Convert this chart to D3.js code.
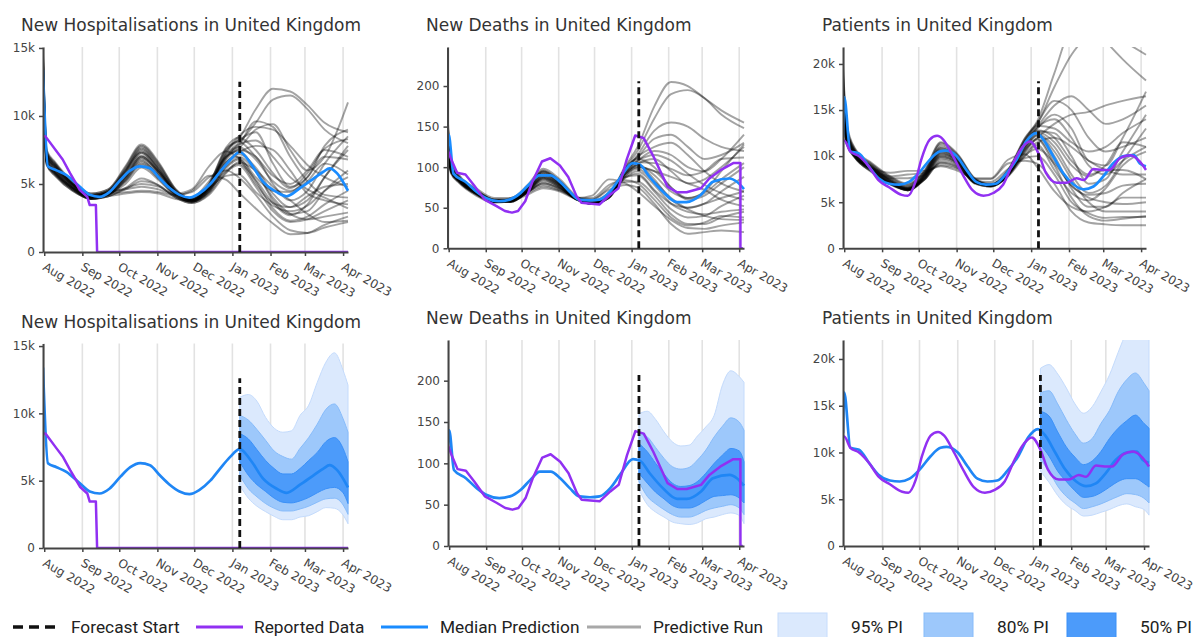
<!DOCTYPE html>
<html><head><meta charset="utf-8">
<script src="https://cdn.jsdelivr.net/npm/d3@7"></script>
<style>body{margin:0;background:#fff}svg{display:block}</style>
</head><body>
<svg id="chart" width="1199" height="637"></svg>
<script>
// ---------- DATA ----------
const monthTicks = ["2022-08-01","2022-09-01","2022-10-01","2022-11-01","2022-12-01","2023-01-01","2023-02-01","2023-03-01","2023-04-01"];
const monthLabels = ["Aug 2022","Sep 2022","Oct 2022","Nov 2022","Dec 2022","Jan 2023","Feb 2023","Mar 2023","Apr 2023"];
const forecastStart = "2023-01-07";

const hospTicks = [0, 5, 10, 15];
const hospTickLabels = ["0", "5k", "10k", "15k"];
const deathsTicks = [0, 50, 100, 150, 200];
const deathsTickLabels = ["0", "50", "100", "150", "200"];
const patTicks = [0, 5, 10, 15, 20];
const patTickLabels = ["0", "5k", "10k", "15k", "20k"];

// predictive runs knots (values in thousands for hosp/patients)
const runDates = ["2022-07-31","2022-08-03","2022-08-10","2022-08-24","2022-09-08","2022-09-22","2022-10-06","2022-10-19","2022-11-02","2022-11-16","2022-11-29","2022-12-13","2022-12-27","2023-01-06","2023-01-20","2023-02-03","2023-02-17","2023-03-03","2023-03-17","2023-04-05"];

const hospRuns = [
 [14.8,7.5,6.6,5.2,4.3,4.6,6.3,7.9,6.6,4.6,3.9,5.0,7.6,8.3,10.5,12.0,11.8,10.8,9.5,8.8],
 [14.5,7.2,6.4,5.0,4.2,4.5,6.0,7.6,6.3,4.5,3.8,4.8,7.2,8.0,9.5,11.2,11.5,10.5,9.0,8.0],
 [13.8,7.0,6.2,4.9,4.1,4.4,5.8,7.3,6.0,4.4,3.9,4.9,7.0,7.6,9.0,9.4,7.5,6.0,7.0,11.0],
 [14.2,7.3,6.5,5.1,4.2,4.5,6.1,7.7,6.4,4.5,3.8,4.7,7.4,8.2,8.8,6.5,4.8,5.5,7.8,9.0],
 [13.5,6.8,6.0,4.8,4.0,4.3,5.6,7.0,5.8,4.3,3.7,4.6,6.8,7.5,7.0,5.0,3.8,4.5,6.5,8.5],
 [13.0,6.6,5.8,4.7,4.0,4.2,5.3,6.6,5.6,4.2,3.7,4.5,6.5,7.2,6.2,4.3,3.3,3.8,5.5,7.8],
 [14.0,7.1,6.3,5.0,4.1,4.3,5.5,6.8,5.7,4.3,4.0,5.2,7.0,7.4,6.0,3.8,2.8,3.0,4.5,6.0],
 [13.3,6.7,5.9,4.7,3.9,4.2,5.2,6.4,5.4,4.1,3.7,4.4,6.2,6.8,5.2,3.2,2.3,2.6,3.5,4.5],
 [12.8,6.5,5.7,4.6,4.0,4.3,4.7,5.0,4.8,4.2,4.4,5.5,6.0,5.5,4.2,2.6,1.6,1.4,1.8,2.2],
 [13.6,6.9,6.1,4.8,4.0,4.2,5.4,6.9,5.9,4.4,3.8,4.5,6.6,7.3,7.8,7.5,6.0,4.3,3.8,3.5],
 [12.5,6.4,5.6,4.5,3.9,4.1,4.6,5.2,4.9,4.0,3.6,4.2,5.8,6.6,6.0,4.8,3.8,2.8,2.2,2.3],
 [13.2,6.7,5.9,4.7,4.0,4.4,4.6,4.8,4.6,4.2,4.5,5.6,5.3,4.4,3.2,2.1,1.3,1.4,2.0,2.6],
 [14.3,7.2,6.3,5.0,4.2,4.4,5.9,7.5,6.2,4.4,3.8,4.8,7.3,8.5,9.2,9.0,7.8,6.4,5.5,4.8],
 [12.9,6.6,5.8,4.7,4.1,4.3,4.4,4.5,4.4,4.1,3.9,4.6,6.0,6.5,5.3,3.6,2.7,3.5,5.5,7.5],
 [13.7,7.0,6.1,4.9,4.0,4.3,5.5,7.0,5.9,4.3,3.7,4.7,6.9,7.9,8.2,7.0,5.5,4.6,4.0,3.2],
 [13.1,6.6,5.8,4.7,4.0,4.2,5.2,6.5,5.5,4.2,3.7,4.6,6.6,7.0,5.9,4.0,2.8,2.4,2.6,2.9],
 [14.1,7.1,6.3,5.0,4.1,4.4,5.9,7.3,6.1,4.4,3.8,4.9,7.1,7.7,6.8,5.2,4.5,5.2,6.5,5.7],
 [13.4,6.8,6.0,4.8,4.0,4.3,5.4,6.7,5.6,4.3,4.6,6.3,7.4,6.9,5.0,3.6,3.3,4.1,4.8,5.0],
 [12.7,6.5,5.7,4.6,3.9,4.1,4.7,5.4,4.9,4.0,3.6,4.3,5.9,6.4,4.8,3.0,2.2,2.4,3.0,3.8],
 [14.6,7.4,6.5,5.1,4.3,4.6,6.2,7.8,6.5,4.6,3.9,5.0,7.7,8.4,7.5,5.8,4.7,5.8,7.6,8.3],
 [13.9,7.0,6.2,4.9,4.1,4.4,5.7,7.1,5.9,4.4,3.8,4.8,7.0,7.8,9.6,9.2,7.0,5.2,4.2,4.0],
 [13.0,6.6,5.8,4.6,3.9,4.2,5.0,6.2,5.3,4.1,3.7,4.4,6.3,6.9,5.5,4.5,4.4,5.5,7.0,6.8],
 [14.4,7.3,6.4,5.0,4.2,4.5,6.0,7.4,6.1,4.4,3.8,4.9,7.5,8.1,7.0,5.6,5.0,6.0,7.5,7.0],
 [12.6,6.4,5.6,4.5,3.9,4.1,4.3,4.4,4.3,3.9,3.8,4.7,5.6,5.7,4.4,3.4,3.0,3.4,4.5,5.5]
];

const deathsRuns = [
 [165,110,90,74,62,62,78,98,85,64,57,66,102,125,175,205,200,185,170,155],
 [160,105,88,72,60,60,75,95,82,62,56,65,100,120,160,190,195,185,165,148],
 [150,100,86,70,59,58,72,92,80,61,55,63,96,115,145,155,150,135,125,120],
 [155,102,87,71,60,59,74,94,81,62,55,64,98,112,135,140,125,110,115,130],
 [145,98,84,69,58,57,70,88,78,60,56,66,95,108,120,115,100,95,110,140],
 [140,96,83,68,57,57,70,86,76,60,55,63,92,104,110,95,80,85,100,125],
 [130,94,82,67,57,58,70,85,75,60,56,63,90,100,95,75,62,70,95,128],
 [158,104,88,72,60,60,76,96,83,62,55,64,99,110,100,75,60,65,80,100],
 [135,95,82,67,58,60,70,80,74,62,60,75,88,90,70,48,38,40,52,65],
 [148,99,85,69,58,58,72,90,79,61,55,62,93,102,85,60,50,55,70,88],
 [128,93,81,66,57,60,68,76,71,62,65,85,80,70,52,35,25,24,28,32],
 [138,95,83,68,58,58,69,84,75,60,56,64,88,95,78,55,45,42,45,48],
 [152,101,86,70,59,58,73,93,80,61,55,63,97,108,115,108,92,78,68,60],
 [142,97,84,68,58,59,71,87,77,61,56,65,93,103,90,70,62,68,85,105],
 [132,94,82,67,57,62,70,78,72,62,58,68,82,82,65,42,30,30,38,45],
 [146,98,84,69,58,58,71,89,78,61,55,62,92,100,95,88,80,72,60,52],
 [126,92,80,65,56,58,66,74,70,61,60,72,78,75,55,30,18,20,22,20],
 [156,103,87,71,60,60,75,95,82,62,56,64,99,113,125,130,115,95,80,70],
 [136,95,83,68,58,58,69,82,74,61,57,65,87,92,72,55,50,55,62,70],
 [144,97,84,68,58,57,70,87,77,60,55,62,90,98,82,62,48,40,36,35],
 [150,100,85,70,59,59,73,91,79,61,56,64,95,106,105,98,90,95,110,112],
 [134,95,82,67,57,60,69,80,73,62,62,78,84,80,60,38,28,32,40,38]
];

const patientsRuns = [
 [20.0,13.5,10.8,9.2,7.8,7.0,8.5,11.5,10.2,7.6,7.0,8.5,12.0,13.8,19.0,24.0,25.0,22.5,20.5,18.2],
 [19.0,13.0,10.6,9.0,7.6,6.8,8.3,11.2,10.0,7.5,6.9,8.4,11.8,13.5,17.5,21.0,23.0,23.5,22.5,21.0],
 [18.5,12.8,10.5,8.9,7.4,6.6,8.1,10.9,9.8,7.4,6.9,8.3,11.6,13.2,15.5,16.5,15.0,13.5,14.0,15.5],
 [18.0,12.6,10.4,8.8,7.3,6.5,8.0,10.7,9.7,7.3,6.8,8.2,11.4,13.0,14.5,13.0,9.5,9.0,12.0,17.0],
 [17.5,12.4,10.3,8.7,7.2,6.4,7.9,10.5,9.5,7.2,6.8,8.1,11.2,12.7,12.5,10.0,7.0,7.5,10.5,14.5],
 [17.0,12.2,10.2,8.6,7.1,6.3,7.8,10.3,9.4,7.2,6.8,8.0,11.0,12.4,11.0,8.0,6.0,6.8,9.5,13.0],
 [16.5,12.0,10.1,8.5,7.0,6.3,7.7,10.1,9.3,7.1,6.7,7.9,10.8,12.2,10.0,6.5,4.5,4.5,6.0,7.5],
 [16.0,11.8,10.0,8.4,7.0,6.4,7.6,9.8,9.1,7.1,6.8,7.9,10.5,11.8,9.0,5.5,3.5,3.0,3.2,3.5],
 [15.5,11.6,9.9,8.6,7.8,8.0,8.2,9.0,8.6,7.5,7.5,9.2,9.5,9.2,7.0,4.0,2.8,2.6,2.5,2.5],
 [15.0,11.5,9.9,8.7,8.2,8.4,8.4,8.9,8.4,7.6,7.6,9.6,10.2,8.8,6.2,4.5,4.0,4.5,5.5,5.5],
 [14.5,11.4,9.8,8.3,6.9,6.3,7.5,9.6,9.0,7.0,6.7,7.8,10.3,11.5,12.0,11.0,9.5,8.5,8.0,8.0],
 [14.0,11.3,9.8,8.2,6.9,6.4,7.5,9.4,8.9,7.1,6.8,7.8,10.0,11.2,8.5,6.0,5.2,6.5,9.0,10.5],
 [19.5,13.2,10.7,9.1,7.7,6.9,8.4,11.4,10.1,7.5,6.9,8.4,11.9,13.6,16.0,15.0,12.0,10.5,11.0,12.0],
 [18.8,12.9,10.5,8.9,7.5,6.7,8.2,11.0,9.9,7.4,6.9,8.3,11.7,13.3,13.0,11.5,10.5,11.0,12.5,14.0],
 [16.8,12.1,10.2,8.5,7.1,6.3,7.8,10.2,9.4,7.2,6.8,8.0,10.9,12.3,10.5,7.5,5.0,4.0,4.0,4.0],
 [17.2,12.3,10.3,8.6,7.2,6.4,7.9,10.4,9.5,7.2,6.8,8.0,11.1,12.6,11.5,9.0,7.8,9.0,11.5,11.0],
 [15.8,11.7,10.0,8.4,7.0,6.3,7.6,9.9,9.2,7.1,6.7,7.9,10.6,11.9,9.5,6.8,5.8,6.0,6.8,7.0],
 [15.2,11.5,9.9,8.5,7.6,7.6,8.0,9.2,8.7,7.3,7.2,8.6,9.8,10.0,8.0,5.0,3.8,3.3,3.4,3.4],
 [18.2,12.7,10.4,8.8,7.4,6.6,8.1,10.8,9.8,7.3,6.8,8.2,11.5,13.1,14.0,12.0,9.0,8.0,9.5,11.0],
 [16.2,11.9,10.1,8.5,7.1,6.5,7.7,10.0,9.2,7.1,6.8,8.0,10.7,12.0,13.5,14.5,14.8,15.5,16.0,16.5],
 [17.8,12.5,10.3,8.7,7.3,6.5,8.0,10.6,9.6,7.3,6.8,8.1,11.3,12.8,12.0,9.5,8.0,8.5,8.5,7.5],
 [14.8,11.4,9.8,8.3,7.0,6.5,7.5,9.3,8.8,7.1,6.9,8.0,10.1,10.8,9.2,6.8,5.5,5.0,4.8,5.0]
];

// median prediction
const hospMedDates = ["2022-07-31","2022-08-04","2022-08-11","2022-08-19","2022-08-30","2022-09-07","2022-09-15","2022-09-23","2022-10-02","2022-10-10","2022-10-18","2022-10-26","2022-11-03","2022-11-11","2022-11-19","2022-11-27","2022-12-05","2022-12-14","2022-12-22","2022-12-30","2023-01-07","2023-01-16","2023-01-26","2023-02-06","2023-02-14","2023-02-25","2023-03-08","2023-03-16","2023-03-21","2023-03-27","2023-04-05"];
const hospMed = [13.4,6.3,6.0,5.65,4.8,4.2,4.05,4.4,5.3,6.0,6.3,6.15,5.4,4.7,4.2,4.0,4.3,5.0,5.9,6.75,7.35,6.5,5.15,4.4,4.1,4.7,5.4,5.9,6.15,5.8,4.5];
const deathsMedDates = ["2022-07-31","2022-08-01","2022-08-05","2022-08-15","2022-08-24","2022-09-01","2022-09-12","2022-09-21","2022-09-30","2022-10-08","2022-10-16","2022-10-25","2022-11-02","2022-11-10","2022-11-18","2022-11-27","2022-12-05","2022-12-14","2022-12-22","2023-01-02","2023-01-08","2023-01-16","2023-01-27","2023-02-08","2023-02-16","2023-02-28","2023-03-10","2023-03-24","2023-03-30","2023-04-05"];
const deathsMed = [122,140,92,82,70,62,58,60,68,80,90,90,82,70,60,59,60,70,86,105,103,88,70,57,57,66,82,86,82,73];
const patMedDates = ["2022-07-31","2022-08-01","2022-08-06","2022-08-13","2022-08-21","2022-08-29","2022-09-07","2022-09-15","2022-09-23","2022-10-02","2022-10-10","2022-10-18","2022-10-23","2022-11-01","2022-11-09","2022-11-17","2022-11-25","2022-12-03","2022-12-11","2022-12-20","2022-12-28","2023-01-05","2023-01-11","2023-01-19","2023-01-27","2023-02-05","2023-02-13","2023-02-21","2023-03-01","2023-03-09","2023-03-18","2023-03-26","2023-03-31","2023-04-05"];
const patMed = [12.1,16.4,10.5,10.3,8.9,7.6,7.0,6.9,7.2,8.3,9.6,10.5,10.6,10.0,8.5,7.2,6.9,7.0,8.0,9.6,11.6,12.5,11.8,10.0,8.2,6.9,6.4,6.7,7.8,9.2,10.0,10.1,9.2,8.9];

// reported data
const hospRepDates = ["2022-07-31","2022-08-02","2022-08-11","2022-08-16","2022-08-22","2022-08-30","2022-09-05","2022-09-07","2022-09-12","2022-09-13","2023-04-05"];
const hospRep = [8.5,8.5,7.4,6.8,5.8,4.55,4.05,3.45,3.45,0,0];
const deathsRepDates = ["2022-07-31","2022-08-03","2022-08-08","2022-08-15","2022-08-22","2022-08-31","2022-09-10","2022-09-17","2022-09-23","2022-09-28","2022-10-04","2022-10-10","2022-10-18","2022-10-25","2022-11-02","2022-11-09","2022-11-16","2022-11-20","2022-12-05","2022-12-14","2022-12-21","2022-12-28","2023-01-04","2023-01-11","2023-01-19","2023-01-31","2023-02-08","2023-02-16","2023-02-28","2023-03-07","2023-03-16","2023-03-27","2023-04-02","2023-04-02","2023-04-04"];
const deathsRep = [122,110,93,91,78,60,52,46,44,46,58,82,107,111,102,88,64,56,54,66,74,110,139,136,114,76,69,69,74,86,96,105,105,0,0];
const patRepDates = ["2022-07-31","2022-08-01","2022-08-06","2022-08-13","2022-08-21","2022-08-29","2022-09-07","2022-09-17","2022-09-22","2022-09-28","2022-10-03","2022-10-10","2022-10-16","2022-10-21","2022-10-29","2022-11-06","2022-11-14","2022-11-23","2022-12-01","2022-12-09","2022-12-17","2022-12-25","2022-12-31","2023-01-07","2023-01-13","2023-01-22","2023-01-30","2023-02-07","2023-02-13","2023-02-21","2023-02-28","2023-03-06","2023-03-15","2023-03-23","2023-03-31","2023-04-05"];
const patRep = [11.7,11.7,10.5,10.0,8.9,7.4,6.6,5.8,5.7,7.1,9.6,11.8,12.2,11.8,10.0,8.0,6.3,5.7,6.0,6.9,9.2,11.0,11.6,10.3,8.2,7.1,7.1,7.6,7.4,8.6,8.5,8.5,9.8,10.1,9.4,8.5];

// prediction intervals
const bandDates = ["2023-01-07","2023-01-14","2023-01-21","2023-01-28","2023-02-04","2023-02-11","2023-02-18","2023-02-25","2023-03-04","2023-03-11","2023-03-18","2023-03-25","2023-04-01","2023-04-05"];
const hosp95hi = [11.2,11.4,10.9,9.7,8.9,8.6,8.7,9.85,10.6,12.3,13.8,14.5,13.2,12.1];
const hosp80hi = [9.85,9.5,8.8,8.0,7.2,6.8,6.6,7.4,8.2,9.2,10.3,10.7,9.6,8.6];
const hosp50hi = [8.5,8.1,7.3,6.5,5.9,5.5,5.5,5.9,6.5,7.1,7.9,8.2,7.4,6.4];
const hosp50lo = [6.4,5.4,4.7,4.2,3.7,3.4,3.35,3.5,3.75,4.1,4.4,4.5,4.1,3.3];
const hosp80lo = [5.4,4.4,3.8,3.3,2.95,2.75,2.75,2.9,3.1,3.4,3.65,3.7,3.2,2.5];
const hosp95lo = [4.65,3.7,3.1,2.7,2.35,2.1,2.1,2.3,2.4,2.7,3.0,2.95,2.45,1.8];
const deaths95hi = [160,163,153,138,126,121,122,133,144,158,195,212,205,198];
const deaths80hi = [136,132,119,106,96,93,95,104,116,132,145,155,150,140];
const deaths50hi = [124,114,100,87,76,72,73,78,88,100,110,118,115,102];
const deaths50lo = [88,76,65,57,49,46,46,49,55,60,61,62,58,52];
const deaths80lo = [78,60,51,44,38,35,35,38,43,46,48,50,46,38];
const deaths95lo = [68,50,41,35,29,27,26,28,33,35,38,40,37,27];
const pat95hi = [19.0,19.4,18.4,16.9,15.2,14.2,14.9,16.5,18.3,20.7,23.0,25.0,25.0,24.5];
const pat80hi = [16.4,16.6,15.2,13.5,12.0,11.0,11.5,13.1,14.5,16.5,17.8,18.5,17.4,16.6];
const pat50hi = [14.4,13.9,12.2,10.6,9.5,8.7,9.1,10.1,11.5,12.6,13.4,14.0,13.1,12.6];
const pat50lo = [10.8,9.6,8.0,6.9,5.9,5.2,5.3,5.7,6.3,6.9,7.2,7.2,6.7,6.3];
const pat80lo = [9.2,8.0,6.4,5.3,4.6,4.0,4.2,4.5,4.9,5.3,5.6,5.5,5.1,4.6];
const pat95lo = [8.0,6.8,5.4,4.4,3.8,3.2,3.3,3.6,3.9,4.3,4.5,4.2,3.9,3.3];

const legendLabels = ["Forecast Start","Reported Data","Median Prediction","Predictive Run","95% PI","80% PI","50% PI"];

// ---------- DRAWING ----------
const parse = d3.timeParse("%Y-%m-%d");
const xDomain = [parse("2022-07-31"), parse("2023-04-05")];
const svg = d3.select("#chart");
const C = {purple:"#9130f2", blue:"#1a8cff", b95:"#dbe9fd", b80:"#9dc8fb", b50:"#4c9bfa", axis:"#444", grid:"#e2e2e2", text:"#444"};

const panels = [
 {id:"tl", title:"New Hospitalisations in United Kingdom", tx:21, ty:31, x0:43, x1:348, yBot:252, yTop:47, yMax:15.07, ticks:hospTicks, labels:hospTickLabels, runs:hospRuns, medD:hospMedDates, med:hospMed, repD:hospRepDates, rep:hospRep, repCurve:d3.curveLinear},
 {id:"tm", title:"New Deaths in United Kingdom", tx:426, ty:31, x0:447.5, x1:744, yBot:248.3, yTop:47, yMax:248.1, ticks:deathsTicks, labels:deathsTickLabels, runs:deathsRuns, medD:deathsMedDates, med:deathsMed, repD:deathsRepDates, rep:deathsRep, repCurve:d3.curveLinear},
 {id:"tr", title:"Patients in United Kingdom", tx:822, ty:31, x0:843, x1:1146, yBot:248.3, yTop:47, yMax:21.84, ticks:patTicks, labels:patTickLabels, runs:patientsRuns, medD:patMedDates, med:patMed, repD:patRepDates, rep:patRep, repCurve:d3.curveMonotoneX},
 {id:"bl", title:"New Hospitalisations in United Kingdom", tx:21, ty:328, x0:43, x1:348, yBot:548, yTop:343.5, yMax:15.19, ticks:hospTicks, labels:hospTickLabels, bands:[hosp95lo,hosp95hi,hosp80lo,hosp80hi,hosp50lo,hosp50hi], medD:hospMedDates, med:hospMed, repD:hospRepDates, rep:hospRep, repCurve:d3.curveLinear},
 {id:"bm", title:"New Deaths in United Kingdom", tx:426, ty:324, x0:448, x1:744, yBot:546, yTop:340, yMax:249.2, ticks:deathsTicks, labels:deathsTickLabels, bands:[deaths95lo,deaths95hi,deaths80lo,deaths80hi,deaths50lo,deaths50hi], medD:deathsMedDates, med:deathsMed, repD:deathsRepDates, rep:deathsRep, repCurve:d3.curveLinear},
 {id:"br", title:"Patients in United Kingdom", tx:822, ty:324, x0:843, x1:1149, yBot:546, yTop:340, yMax:22.03, ticks:patTicks, labels:patTickLabels, bands:[pat95lo,pat95hi,pat80lo,pat80hi,pat50lo,pat50hi], medD:patMedDates, med:patMed, repD:patRepDates, rep:patRep, repCurve:d3.curveMonotoneX}
];

const defs = svg.append("defs");

panels.forEach(p => {
  const x = d3.scaleTime(xDomain, [p.x0, p.x1]);
  const y = d3.scaleLinear([0, p.yMax], [p.yBot, p.yTop]);
  const g = svg.append("g");
  defs.append("clipPath").attr("id", "clip-" + p.id).append("rect")
    .attr("x", p.x0).attr("y", p.yTop).attr("width", p.x1 - p.x0 + 1).attr("height", p.yBot - p.yTop);

  g.append("text").attr("x", p.tx).attr("y", p.ty).text(p.title)
    .attr("font-family", "DejaVu Sans").attr("font-size", 17).attr("fill", "#333");

  g.append("g").selectAll("line").data(monthTicks.map(parse)).join("line")
    .attr("x1", d => x(d)).attr("x2", d => x(d)).attr("y1", p.yTop).attr("y2", p.yBot)
    .attr("stroke", C.grid).attr("stroke-width", 1.6);

  const plot = g.append("g").attr("clip-path", `url(#clip-${p.id})`);

  if (p.runs) {
    const rd = runDates.map(parse);
    const line = d3.line().x((d, i) => x(rd[i])).y(d => y(d)).curve(d3.curveMonotoneX);
    plot.append("g").selectAll("path").data(p.runs).join("path")
      .attr("d", line).attr("fill", "none").attr("stroke", "#000")
      .attr("stroke-opacity", 0.36).attr("stroke-width", 1.9);
  }
  if (p.bands) {
    const bd = bandDates.map(parse);
    const area = (lo, hi) => d3.area().x((d, i) => x(bd[i])).y0((d, i) => y(lo[i])).y1((d, i) => y(hi[i])).curve(d3.curveMonotoneX)(lo);
    const bandCols = [[C.b95, "#c4dbfc"], [C.b80, "#86bbfa"], [C.b50, "#3b90f7"]];
    [0, 1, 2].forEach(k => {
      plot.append("path").attr("d", area(p.bands[2 * k], p.bands[2 * k + 1]))
        .attr("fill", bandCols[k][0]).attr("stroke", bandCols[k][1]).attr("stroke-width", 1);
    });
  }

  const md = p.medD.map(parse);
  plot.append("path").datum(p.med)
    .attr("d", d3.line().x((d, i) => x(md[i])).y(d => y(d)).curve(d3.curveMonotoneX))
    .attr("fill", "none").attr("stroke", p.bands ? "#1f86f5" : C.blue).attr("stroke-width", 2.7);

  const rpd = p.repD.map(parse);
  plot.append("path").datum(p.rep)
    .attr("d", d3.line().x((d, i) => x(rpd[i])).y(d => y(d)).curve(p.repCurve))
    .attr("fill", "none").attr("stroke", C.purple).attr("stroke-width", 2.5).attr("stroke-linejoin", "round");

  const yAxis = g.append("g").attr("transform", `translate(${p.x0},0)`)
    .call(d3.axisLeft(y).tickValues(p.ticks).tickFormat((d, i) => p.labels[i]).tickSize(4).tickSizeOuter(0).tickPadding(4));
  const xAxis = g.append("g").attr("transform", `translate(0,${p.yBot})`)
    .call(d3.axisBottom(x).tickValues(monthTicks.map(parse)).tickFormat((d, i) => monthLabels[i]).tickSize(4).tickSizeOuter(0));
  [yAxis, xAxis].forEach(a => {
    a.select(".domain").attr("stroke", C.axis).attr("stroke-width", 2);
    a.selectAll(".tick line").attr("stroke", C.axis).attr("stroke-width", 1.5);
    a.selectAll("text").attr("font-family", "DejaVu Sans").attr("font-size", 12).attr("fill", C.text);
  });
  xAxis.selectAll(".tick text").attr("x", 0).attr("y", 0).attr("dy", "0.8em")
    .attr("text-anchor", "start").attr("transform", "translate(2,9) rotate(30)");

  const fx = x(parse(forecastStart));
  g.append("line").attr("x1", fx).attr("x2", fx)
    .attr("y1", p.yBot).attr("y2", p.yTop + 0.17 * (p.yBot - p.yTop))
    .attr("stroke", "#111").attr("stroke-width", 2.8).attr("stroke-dasharray", "7,4");
});

// ---------- LEGEND ----------
const lg = svg.append("g").attr("font-family", "Roboto").attr("font-size", 17.3).attr("fill", "#222");
const ly = 627;
lg.append("line").attr("x1", 13).attr("x2", 55).attr("y1", ly).attr("y2", ly).attr("stroke", "#111").attr("stroke-width", 3.5).attr("stroke-dasharray", "10,6");
lg.append("line").attr("x1", 196).attr("x2", 243).attr("y1", ly).attr("y2", ly).attr("stroke", C.purple).attr("stroke-width", 3);
lg.append("line").attr("x1", 381).attr("x2", 428).attr("y1", ly).attr("y2", ly).attr("stroke", C.blue).attr("stroke-width", 3);
lg.append("line").attr("x1", 587).attr("x2", 641).attr("y1", ly).attr("y2", ly).attr("stroke", "#a8a8a8").attr("stroke-width", 3);
[[778, C.b95, "#c6dcfc"], [924, C.b80, "#86bbfa"], [1067, C.b50, "#3b90f7"]].forEach(b => {
  lg.append("rect").attr("x", b[0]).attr("y", 613).attr("width", 49).attr("height", 26).attr("fill", b[1]).attr("stroke", b[2]).attr("stroke-width", 1);
});
const textX = [71, 254, 440, 653, 851, 997, 1140];
legendLabels.forEach((t, i) => {
  lg.append("text").attr("x", textX[i]).attr("y", 633).text(t);
});
</script>
</body></html>
